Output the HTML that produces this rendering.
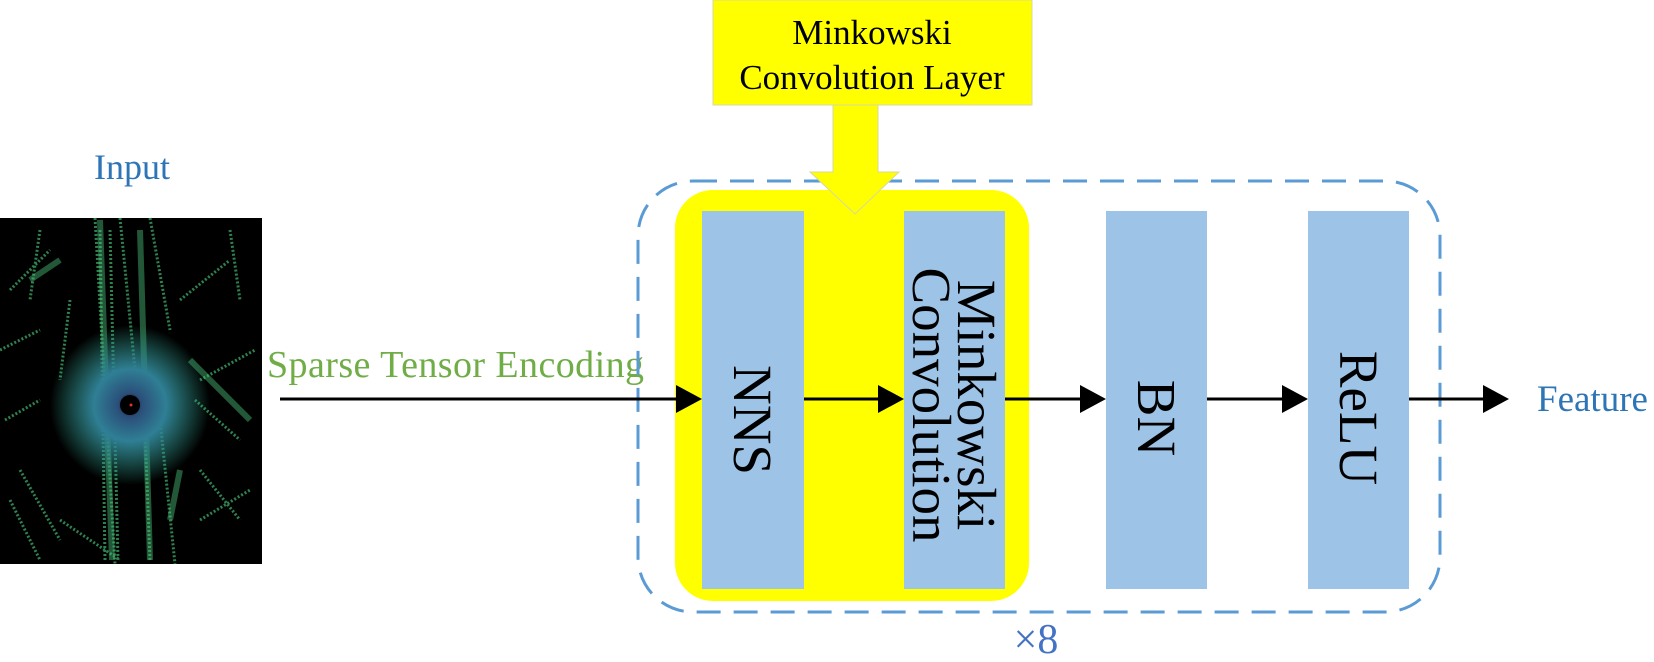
<!DOCTYPE html>
<html><head><meta charset="utf-8"><style>
html,body{margin:0;padding:0;background:#fff;}
body{width:1654px;height:662px;overflow:hidden;position:relative;}
</style></head><body>
<svg width="1654" height="662" viewBox="0 0 1654 662" xmlns="http://www.w3.org/2000/svg" style="position:absolute;left:0;top:0">
<defs>
<radialGradient id="rg" cx="130" cy="405" r="80" gradientUnits="userSpaceOnUse">
<stop offset="0" stop-color="#000"/>
<stop offset="0.15" stop-color="#2b4f7a"/>
<stop offset="0.45" stop-color="#2f7f95"/>
<stop offset="1" stop-color="#2f9a80" stop-opacity="0"/>
</radialGradient>
</defs>
<!-- point cloud -->
<rect x="0" y="218" width="262" height="346" fill="#000"/>
<g stroke="#3fae6a" stroke-width="3" fill="none" opacity="0.75" stroke-dasharray="2 2">
<path d="M95 218 L115 564"/><path d="M120 218 L140 420"/><path d="M150 218 L170 330"/>
<path d="M160 420 L175 564"/><path d="M10 290 L50 250"/><path d="M0 350 L40 330"/>
<path d="M200 380 L255 350"/><path d="M195 400 L240 440"/><path d="M20 470 L60 540"/>
<path d="M180 300 L230 260"/><path d="M60 520 L120 560"/><path d="M200 520 L250 490"/>
<path d="M40 230 L30 300"/><path d="M230 230 L240 300"/><path d="M5 420 L40 400"/>
<path d="M100 230 L105 560"/><path d="M110 230 L118 560"/><path d="M145 430 L150 560"/>
<path d="M70 300 L60 380"/><path d="M200 470 L240 520"/><path d="M10 500 L40 560"/>
</g>
<g stroke="#4cc27a" stroke-width="6" opacity="0.45" fill="none">
<path d="M100 220 L112 560"/><path d="M140 230 L150 560"/><path d="M190 360 L250 420"/>
<path d="M30 280 L60 260"/><path d="M180 470 L170 520"/>
</g>
<circle cx="130" cy="405" r="80" fill="url(#rg)"/>
<circle cx="130" cy="405" r="10" fill="#000"/>
<circle cx="131" cy="405" r="1.5" fill="#e03030"/>

<!-- texts left -->
<text x="132" y="179" font-family="Liberation Serif, serif" font-size="36" fill="#2e75b6" text-anchor="middle">Input</text>
<text x="267" y="377" font-family="Liberation Serif, serif" font-size="38" fill="#70ad47" textLength="377">Sparse Tensor Encoding</text>

<!-- dashed container -->
<rect x="638" y="181" width="802" height="431" rx="55" ry="55" fill="none" stroke="#5b9bd5" stroke-width="3" stroke-dasharray="24 13"/>
<!-- yellow group -->
<rect x="675" y="190" width="354" height="411" rx="38" ry="38" fill="#ffff00"/>

<!-- top box -->
<rect x="713" y="0" width="319" height="105" fill="#ffff00" stroke="#d8d8a0" stroke-width="1"/>
<text x="872" y="44" font-family="Liberation Serif, serif" font-size="35" fill="#000" text-anchor="middle">Minkowski</text>
<text x="872" y="89" font-family="Liberation Serif, serif" font-size="35" fill="#000" text-anchor="middle">Convolution Layer</text>
<polygon points="833,105 878,105 878,172 899,172 855,214 810,172 833,172" fill="#ffff00" stroke="#d8d8a0" stroke-width="1"/>

<!-- blocks -->
<rect x="702" y="211" width="102" height="378" fill="#9dc3e6"/>
<rect x="904" y="211" width="101" height="378" fill="#9dc3e6"/>
<rect x="1106" y="211" width="101" height="378" fill="#9dc3e6"/>
<rect x="1308" y="211" width="101" height="378" fill="#9dc3e6"/>

<g font-family="Liberation Serif, serif" font-size="55" fill="#000" text-anchor="middle">
<text transform="translate(753,420) rotate(90)" dy="19">NNS</text>
<text transform="translate(977,405) rotate(90)" dy="19">Minkowski</text>
<text transform="translate(932,405) rotate(90)" dy="19">Convolution</text>
<text transform="translate(1157,418) rotate(90)" dy="19">BN</text>
<text transform="translate(1359,418) rotate(90)" dy="19">ReLU</text>
</g>

<!-- arrows -->
<g stroke="#000" stroke-width="3">
<line x1="280" y1="399" x2="680" y2="399"/>
<line x1="804" y1="399" x2="882" y2="399"/>
<line x1="1005" y1="399" x2="1084" y2="399"/>
<line x1="1207" y1="399" x2="1286" y2="399"/>
<line x1="1409" y1="399" x2="1488" y2="399"/>
</g>
<g fill="#000">
<polygon points="676,385 702,399 676,413"/>
<polygon points="878,385 904,399 878,413"/>
<polygon points="1080,385 1106,399 1080,413"/>
<polygon points="1282,385 1308,399 1282,413"/>
<polygon points="1483,385 1509,399 1483,413"/>
</g>

<text x="1537" y="411" font-family="Liberation Serif, serif" font-size="37" fill="#2e75b6">Feature</text>
<text x="1036" y="653" font-family="Liberation Serif, serif" font-size="42" fill="#4472c4" text-anchor="middle">×8</text>
</svg>
</body></html>
